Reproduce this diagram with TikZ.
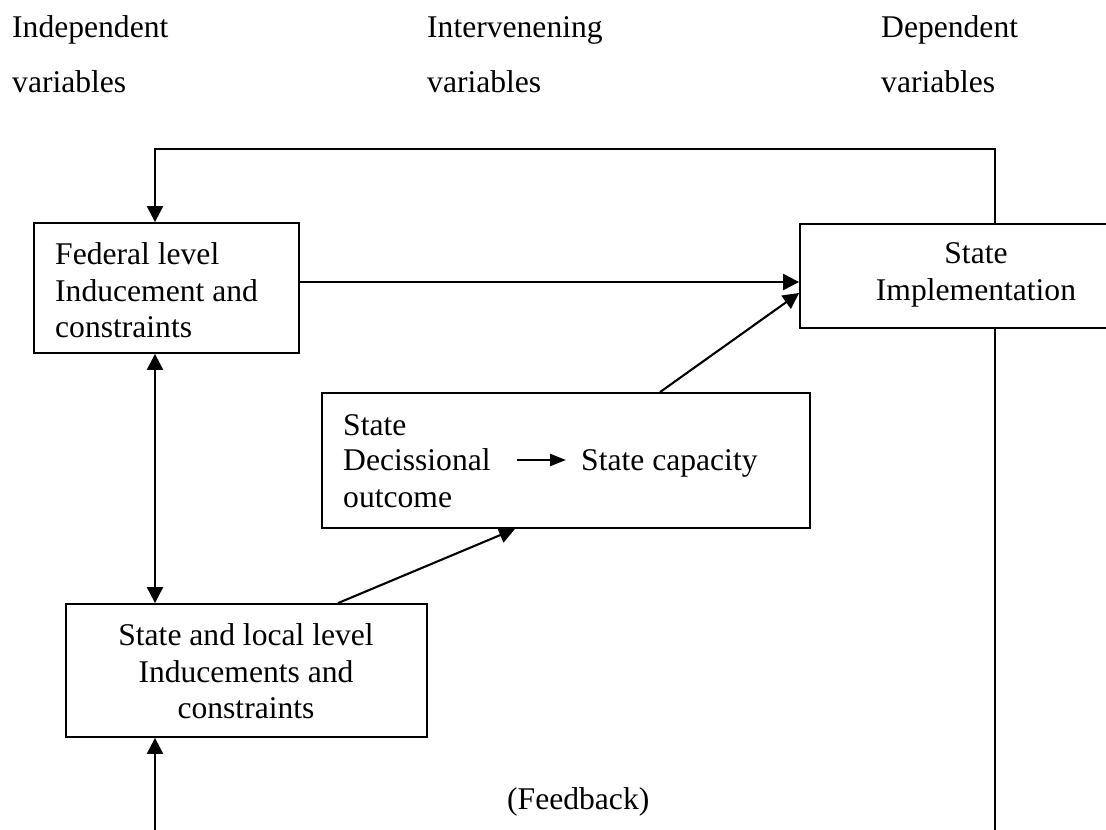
\documentclass[tikz,border=0pt]{standalone}
\usepackage{fontspec}
\setmainfont{Liberation Serif}
\usetikzlibrary{arrows.meta}
\begin{document}
\begin{tikzpicture}[x=1pt,y=-1pt,
  box/.style={draw,line width=1.8pt,rectangle,inner sep=0pt},
  txt/.style={inner sep=0pt,font=\fontsize{31.6}{36.5}\selectfont},
  conn/.style={line width=2.1pt},
  arr/.style={conn,-{Triangle[length=16pt,width=16pt]}},
  darr/.style={conn,{Triangle[length=16pt,width=16pt]}-{Triangle[length=16pt,width=16pt]}},
  smallarr/.style={line width=2.1pt,-{Triangle[length=16pt,width=12pt]}}]
\useasboundingbox (0,0) rectangle (1106,830);

% column headings
\node[txt,anchor=base west] (h1a) at (12,37) {Independent};
\node[txt,anchor=base west] (h1b) at (12,92) {variables};
\node[txt,anchor=base west] (h2a) at (427,37) {Intervenening};
\node[txt,anchor=base west] (h2b) at (427,92) {variables};
\node[txt,anchor=base west] (h3a) at (881,37) {Dependent};
\node[txt,anchor=base west] (h3b) at (881,92) {variables};

% boxes
\node[box,minimum width=265pt,minimum height=130pt] (fed) at (166.5,288) {};
\node[box,minimum width=352pt,minimum height=104pt] (impl) at (976,276) {};
\node[box,minimum width=488pt,minimum height=135pt] (mid) at (566,460.5) {};
\node[box,minimum width=361pt,minimum height=133pt] (sl) at (246.5,670.5) {};

% box texts
\node[txt,anchor=base west] (fed1) at (55,264) {Federal level};
\node[txt,anchor=base west] (fed2) at (55,301) {Inducement and};
\node[txt,anchor=base west] (fed3) at (55,337) {constraints};

\node[txt,anchor=base] (impl1) at (976,263) {State};
\node[txt,anchor=base] (impl2) at (976,300) {Implementation};

\node[txt,anchor=base west] (mid1) at (343,435) {State};
\node[txt,anchor=base west] (dec) at (343,470) {Decissional};
\node[txt,anchor=base west] (mid3) at (343,507) {outcome};
\node[txt,anchor=base west] (cap) at (581,470) {State capacity};

\node[txt,anchor=base] (sl1) at (246,645) {State and local level};
\node[txt,anchor=base] (sl2) at (246,682) {Inducements and};
\node[txt,anchor=base] (sl3) at (246,718) {constraints};

\node[txt,anchor=base west] (fb) at (507,809) {(Feedback)};

% feedback loop corners
\coordinate (fbTR) at (995,149);
\coordinate (fbTL) at (155,149);
\coordinate (fbBR) at (995,835);
\coordinate (fbBL) at (155,835);

% connectors
\draw[conn] (fbBR) -- (fbBR |- impl.south);
\draw[arr] (fbTR |- impl.north) -- (fbTR) -- (fbTL) -- (fbTL |- fed.north);
\draw[arr] (fbBL) -- (fbBL |- sl.south);
\draw[darr] (fbTL |- fed.south) -- (fbTL |- sl.north);
\draw[arr] (fed.east |- 0,282) -- (impl.west |- 0,282);
\draw[arr] (mid.north -| 660,0) -- (impl.west |- 0,293);
\draw[arr] (sl.north -| 338,0) -- (mid.south -| 515,0);
\draw[smallarr] ([xshift=26pt,yshift=10pt]dec.base east) -- ([xshift=-15pt,yshift=10pt]cap.base west);
\end{tikzpicture}
\end{document}
